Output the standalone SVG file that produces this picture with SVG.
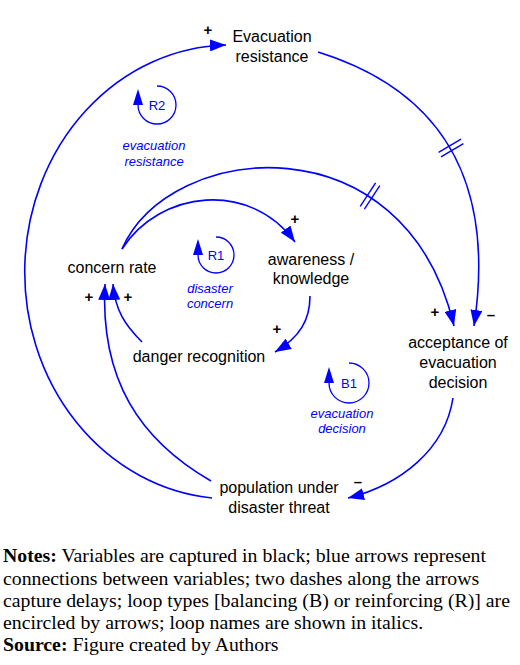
<svg xmlns="http://www.w3.org/2000/svg" width="520" height="665" viewBox="0 0 520 665">
<style>
.lbl{font-family:"Liberation Sans",Arial,sans-serif;font-size:16px;fill:#000;text-anchor:middle}
.loop{font-family:"Liberation Sans",Arial,sans-serif;font-size:13px;fill:#0000ff;text-anchor:middle}
.lname{font-family:"Liberation Sans",Arial,sans-serif;font-size:13px;font-style:italic;fill:#0000ff;text-anchor:middle}
.sign{font-family:"Liberation Sans",Arial,sans-serif;font-size:15px;font-weight:bold;fill:#000;text-anchor:middle}
.note{font-family:"Liberation Serif","Times New Roman",serif;font-size:19.8px;fill:#000}
.c{fill:none;stroke:#0000ff;stroke-width:1.6}
.lc{fill:none;stroke:#0000ff;stroke-width:1.3}
.d{stroke:#0000ff;stroke-width:1.4}
</style>
<defs>
<marker id="ah" markerUnits="userSpaceOnUse" markerWidth="17" markerHeight="12" refX="16" refY="6" orient="auto"><path d="M0,0 L16,6 L0,12 z" fill="#0000ff"/></marker>
<marker id="lh" markerUnits="userSpaceOnUse" markerWidth="16" markerHeight="10" refX="0" refY="5" orient="auto"><path d="M0,0 L16,5 L0,10 z" fill="#0000ff"/></marker>
</defs>

<g id="connectors">
<path class="c" d="M212,498 A206,227 0 0 1 226,45" marker-end="url(#ah)"/>
<path class="c" d="M318,52 C472,100 490,220 474,326" marker-end="url(#ah)"/>
<line class="d" x1="438.6" y1="152.4" x2="461" y2="139.2"/>
<line class="d" x1="441" y1="156.8" x2="463.4" y2="143.6"/>
<path class="c" d="M122,249 C170,140 405,118 454,326" marker-end="url(#ah)"/>
<line class="d" x1="360.2" y1="206.4" x2="375.6" y2="182.8"/>
<line class="d" x1="364.4" y1="209.2" x2="379.8" y2="185.6"/>
<path class="c" d="M122,249 C160,190 250,180 295,242" marker-end="url(#ah)"/>
<path class="c" d="M310,296 C310,320 300,337 275,352" marker-end="url(#ah)"/>
<path class="c" d="M142,342 C125,325 115,310 113,284" marker-end="url(#ah)"/>
<path class="c" d="M211,481 C140,440 100,380 105,284" marker-end="url(#ah)"/>
<path class="c" d="M453,398 C445,450 400,485 348,498" marker-end="url(#ah)"/>
</g>

<g id="evacuation-resistance">
<text class="lbl" x="272" y="42">Evacuation</text>
<text class="lbl" x="272" y="62">resistance</text>
</g>
<g id="concern-rate"><text class="lbl" x="112" y="273">concern rate</text></g>
<g id="awareness">
<text class="lbl" x="311" y="265">awareness /</text>
<text class="lbl" x="311" y="284">knowledge</text>
</g>
<g id="danger-recognition"><text class="lbl" x="199" y="362">danger recognition</text></g>
<g id="acceptance">
<text class="lbl" x="458" y="348">acceptance of</text>
<text class="lbl" x="458" y="368">evacuation</text>
<text class="lbl" x="458" y="388">decision</text>
</g>
<g id="population">
<text class="lbl" x="279" y="493">population under</text>
<text class="lbl" x="279" y="513">disaster threat</text>
</g>

<g id="signs">
<text class="sign" x="208" y="35">+</text>
<text class="sign" x="295" y="224">+</text>
<text class="sign" x="277" y="334">+</text>
<text class="sign" x="89" y="302">+</text>
<text class="sign" x="128" y="302">+</text>
<text class="sign" x="435" y="317">+</text>
<text class="sign" x="491" y="320">–</text>
<text class="sign" x="358" y="487">–</text>
</g>

<g id="loop-R2">
<path class="lc" d="M157,86 A19,19 0 1 1 138,105" marker-end="url(#lh)"/>
<text class="loop" x="157" y="110">R2</text>
<text class="lname" x="154" y="150">evacuation</text>
<text class="lname" x="154" y="166">resistance</text>
</g>
<g id="loop-R1">
<path class="lc" d="M216,237 A18,18 0 1 1 198,255" marker-end="url(#lh)"/>
<text class="loop" x="216" y="260">R1</text>
<text class="lname" x="210" y="293">disaster</text>
<text class="lname" x="210" y="308">concern</text>
</g>
<g id="loop-B1">
<path class="lc" d="M349,363 A20,20 0 1 1 329,383" marker-end="url(#lh)"/>
<text class="loop" x="349" y="388">B1</text>
<text class="lname" x="342" y="418">evacuation</text>
<text class="lname" x="342" y="433">decision</text>
</g>

<g id="notes">
<text class="note" x="3" y="562"><tspan font-weight="bold">Notes:</tspan> Variables are captured in black; blue arrows represent</text>
<text class="note" x="3" y="585">connections between variables; two dashes along the arrows</text>
<text class="note" x="3" y="607">capture delays; loop types [balancing (B) or reinforcing (R)] are</text>
<text class="note" x="3" y="629">encircled by arrows; loop names are shown in italics.</text>
<text class="note" x="3" y="651"><tspan font-weight="bold">Source:</tspan> Figure created by Authors</text>
</g>
</svg>
